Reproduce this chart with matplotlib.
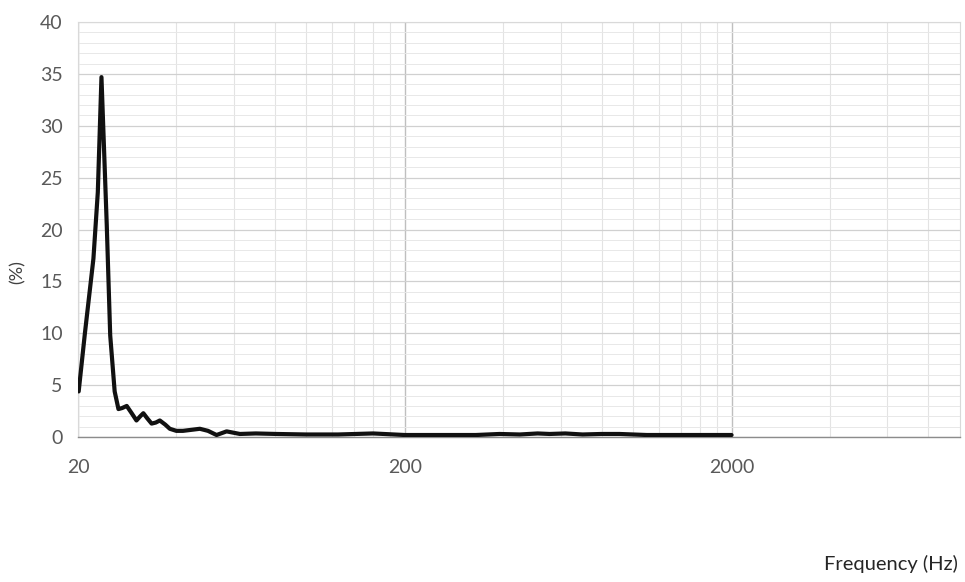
import numpy as np
import matplotlib
matplotlib.use('Agg')
import matplotlib.pyplot as plt
from matplotlib.ticker import FixedLocator, NullFormatter

# frequency (Hz) and response (%)
freq = [20.1, 21.0, 22.3, 23.0, 23.6, 24.5, 25.1, 25.9, 26.6, 27.3, 28.2, 29.2,
        30.2, 31.0, 31.7, 32.6, 33.6, 34.6, 35.6, 37.0, 38.2, 40.0, 41.9, 44.5,
        47.2, 50.0, 53.1, 57.0, 62.6, 70.0, 81.0, 100.0, 125.0, 160.0, 200.0,
        260.0, 330.0, 390.0, 450.0, 510.0, 555.0, 620.0, 700.0, 800.0, 908.0,
        1100.0, 1400.0, 1700.0, 2000.0]
pct = [4.4, 10.0, 17.2, 23.6, 34.7, 20.4, 9.8, 4.4, 2.7, 2.8, 3.0, 2.3,
       1.6, 2.0, 2.3, 1.8, 1.3, 1.4, 1.6, 1.2, 0.8, 0.6, 0.6, 0.7,
       0.8, 0.6, 0.2, 0.55, 0.3, 0.35, 0.3, 0.25, 0.25, 0.35, 0.2,
       0.2, 0.2, 0.3, 0.25, 0.35, 0.3, 0.35, 0.25, 0.3, 0.3,
       0.2, 0.2, 0.2, 0.2]
major_x = [20, 200, 2000]

plt.rcParams['font.family'] = ['Lato', 'DejaVu Sans']

fig = plt.figure(figsize=(9.65, 5.82), dpi=100)
ax = fig.add_axes([0.0808, 0.249, 0.914, 0.713])

ax.plot(freq, pct, color='#111111', lw=3.0, solid_joinstyle='round',
        solid_capstyle='round', zorder=3)

ax.set_xscale('log')
ax.set_xlim(20, 10000)
ax.set_ylim(0, 40)

minor_x = [m * 20 * 10 ** k for k in range(3) for m in range(2, 10) if m * 20 * 10 ** k < 10000]
ax.xaxis.set_major_locator(FixedLocator(major_x))
ax.xaxis.set_minor_locator(FixedLocator(minor_x))
ax.xaxis.set_minor_formatter(NullFormatter())
ax.set_xticklabels([str(v) for v in major_x])

ax.set_yticks(np.arange(0, 41, 5))
ax.set_yticks(np.arange(0, 41, 1), minor=True)

ax.grid(which='major', axis='x', color='#bfbfbf', lw=1.0)
ax.grid(which='minor', axis='x', color='#e3e3e3', lw=0.8)
ax.grid(which='major', axis='y', color='#d0d0d0', lw=0.9)
ax.grid(which='minor', axis='y', color='#e8e8e8', lw=0.7)
ax.set_axisbelow(True)

ax.tick_params(which='both', length=0)
ax.tick_params(axis='both', labelsize=14, labelcolor='#595959')
ax.tick_params(axis='x', pad=16)
ax.tick_params(axis='y', pad=11)

for side in ['left', 'top', 'right']:
    ax.spines[side].set_color('#d9d9d9')
    ax.spines[side].set_linewidth(0.8)
ax.spines['bottom'].set_color('#8c8c8c')
ax.spines['bottom'].set_linewidth(1.0)

fig.text(18 / 965, 1 - 272 / 582, '(%)', rotation=90, ha='center', va='center',
         fontsize=13, color='#404040')
fig.text(0.993, 0.015, 'Frequency (Hz)', ha='right', va='bottom',
         fontsize=14.5, color='#262626')

fig.savefig('out.png', dpi=100, facecolor='white')
